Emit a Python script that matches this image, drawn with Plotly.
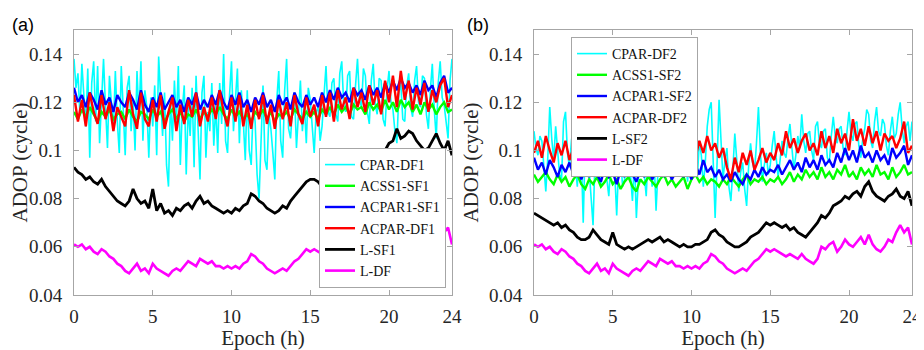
import plotly.graph_objects as go

# ---------------- data ----------------
epoch_h = [i * 0.25 for i in range(97)]        # 0 .. 24 h, 15-min samples
epoch_fine = [i * 0.125 for i in range(193)]   # 0 .. 24 h, 7.5-min samples (CPAR series)

cpar_df1 = [0.138, 0.126, 0.132, 0.115, 0.136, 0.121, 0.110, 0.134,
            0.097, 0.128, 0.137, 0.112, 0.135, 0.103, 0.124, 0.138,
            0.118, 0.101, 0.131, 0.120, 0.108, 0.133, 0.112, 0.099,
            0.135, 0.117, 0.098, 0.126, 0.131, 0.108, 0.121, 0.100,
            0.133, 0.113, 0.137, 0.104, 0.125, 0.118, 0.097, 0.122,
            0.110, 0.127, 0.098, 0.139, 0.119, 0.106, 0.124, 0.094,
            0.085, 0.121, 0.104, 0.129, 0.111, 0.135, 0.094, 0.117,
            0.127, 0.090, 0.118, 0.106, 0.126, 0.093, 0.131, 0.112,
            0.088, 0.124, 0.131, 0.097, 0.116, 0.108, 0.128, 0.102,
            0.119, 0.099, 0.128, 0.111, 0.140, 0.104, 0.099, 0.123,
            0.137, 0.108, 0.121, 0.134, 0.103, 0.125, 0.112, 0.096,
            0.125, 0.100, 0.094, 0.118, 0.112, 0.090, 0.080, 0.106,
            0.127, 0.096, 0.092, 0.115, 0.109, 0.099, 0.088, 0.121,
            0.133, 0.104, 0.097, 0.125, 0.138, 0.109, 0.105, 0.118,
            0.124, 0.101, 0.113, 0.129, 0.108, 0.119, 0.103, 0.126,
            0.121, 0.108, 0.099, 0.116, 0.118, 0.104, 0.110, 0.123,
            0.135, 0.116, 0.114, 0.128, 0.130, 0.115, 0.112, 0.132,
            0.137, 0.119, 0.116, 0.131, 0.133, 0.114, 0.113, 0.127,
            0.138, 0.121, 0.118, 0.134, 0.131, 0.116, 0.111, 0.129,
            0.136, 0.119, 0.115, 0.130, 0.129, 0.113, 0.110, 0.125,
            0.133, 0.120, 0.117, 0.108, 0.103, 0.124, 0.128, 0.113,
            0.112, 0.127, 0.132, 0.118, 0.114, 0.129, 0.135, 0.120,
            0.118, 0.131, 0.130, 0.115, 0.109, 0.125, 0.136, 0.117,
            0.105, 0.128, 0.137, 0.122, 0.119, 0.112, 0.105, 0.129,
            0.138]

acss1_sf1 = [0.116, 0.113, 0.117, 0.114, 0.118, 0.115, 0.112, 0.116, 0.114, 0.117, 0.113, 0.115, 0.116,
             0.113, 0.117, 0.114, 0.112, 0.116, 0.115, 0.113, 0.117, 0.114, 0.116, 0.112, 0.115,
             0.117, 0.113, 0.116, 0.112, 0.115, 0.114, 0.117, 0.113, 0.116, 0.114, 0.117, 0.115,
             0.118, 0.115, 0.113, 0.117, 0.114, 0.116, 0.113, 0.115, 0.112, 0.116, 0.114, 0.117,
             0.113, 0.116, 0.112, 0.115, 0.114, 0.116, 0.113, 0.117, 0.115, 0.113, 0.116, 0.114,
             0.116, 0.113, 0.117, 0.115, 0.118, 0.115, 0.119, 0.116, 0.118, 0.115, 0.119, 0.117,
             0.118, 0.115, 0.120, 0.117, 0.119, 0.116, 0.121, 0.117, 0.120, 0.116, 0.121, 0.118,
             0.120, 0.116, 0.119, 0.115, 0.120, 0.117, 0.119, 0.115, 0.118, 0.120, 0.116, 0.117]

acpar1_sf1 = [0.126, 0.120, 0.123, 0.118, 0.124, 0.121, 0.117, 0.125, 0.119, 0.122, 0.116, 0.123, 0.120,
              0.118, 0.124, 0.121, 0.117, 0.125, 0.119, 0.116, 0.122, 0.118, 0.124, 0.117, 0.120,
              0.123, 0.118, 0.121, 0.116, 0.122, 0.119, 0.124, 0.117, 0.121, 0.118, 0.123, 0.119,
              0.125, 0.120, 0.117, 0.123, 0.119, 0.124, 0.118, 0.121, 0.116, 0.122, 0.119, 0.124,
              0.118, 0.121, 0.116, 0.123, 0.119, 0.122, 0.117, 0.124, 0.120, 0.118, 0.123, 0.119,
              0.122, 0.118, 0.124, 0.120, 0.125, 0.121, 0.126, 0.122, 0.124, 0.120, 0.126, 0.123,
              0.125, 0.121, 0.127, 0.123, 0.126, 0.122, 0.128, 0.124, 0.129, 0.125, 0.130, 0.126,
              0.128, 0.124, 0.127, 0.123, 0.129, 0.125, 0.127, 0.122, 0.128, 0.131, 0.124, 0.126]

acpar_df1 = [0.123, 0.112, 0.121, 0.110, 0.124, 0.116, 0.111, 0.123, 0.113, 0.120, 0.108, 0.118, 0.114,
             0.110, 0.125, 0.115, 0.109, 0.124, 0.113, 0.110, 0.121, 0.112, 0.123, 0.109, 0.116,
             0.122, 0.108, 0.119, 0.111, 0.121, 0.114, 0.124, 0.110, 0.118, 0.112, 0.122, 0.113,
             0.125, 0.116, 0.110, 0.122, 0.112, 0.123, 0.110, 0.119, 0.109, 0.121, 0.113, 0.123,
             0.111, 0.119, 0.109, 0.121, 0.113, 0.120, 0.110, 0.123, 0.115, 0.111, 0.122, 0.114,
             0.119, 0.110, 0.123, 0.114, 0.124, 0.112, 0.125, 0.117, 0.122, 0.113, 0.126, 0.118,
             0.124, 0.116, 0.127, 0.119, 0.125, 0.115, 0.129, 0.120, 0.131, 0.118, 0.133, 0.121,
             0.129, 0.117, 0.126, 0.119, 0.128, 0.116, 0.125, 0.120, 0.127, 0.130, 0.118, 0.123]

l_sf1 = [0.093, 0.091, 0.090, 0.088, 0.089, 0.087, 0.086, 0.088, 0.085, 0.083, 0.081, 0.079, 0.078,
         0.077, 0.079, 0.084, 0.080, 0.078, 0.079, 0.076, 0.084, 0.075, 0.078, 0.074, 0.075,
         0.073, 0.076, 0.075, 0.077, 0.078, 0.076, 0.079, 0.081, 0.078, 0.079, 0.077, 0.076,
         0.075, 0.074, 0.075, 0.074, 0.076, 0.075, 0.077, 0.078, 0.082, 0.081, 0.079, 0.078,
         0.076, 0.075, 0.074, 0.075, 0.077, 0.076, 0.079, 0.081, 0.083, 0.085, 0.087, 0.088,
         0.088, 0.087, 0.085, 0.086, 0.085, 0.084, 0.083, 0.082, 0.083, 0.085, 0.087, 0.089,
         0.091, 0.092, 0.094, 0.096, 0.099, 0.098, 0.100, 0.103, 0.104, 0.109, 0.105, 0.106,
         0.108, 0.107, 0.104, 0.102, 0.100, 0.101, 0.104, 0.107, 0.103, 0.100, 0.104, 0.098]

l_df = [0.061, 0.060, 0.061, 0.059, 0.060, 0.058, 0.057, 0.059, 0.058, 0.056, 0.055, 0.053, 0.052,
        0.050, 0.049, 0.051, 0.053, 0.050, 0.051, 0.049, 0.053, 0.051, 0.050, 0.049, 0.048,
        0.050, 0.051, 0.050, 0.052, 0.054, 0.053, 0.052, 0.055, 0.054, 0.053, 0.054, 0.052,
        0.052, 0.051, 0.052, 0.051, 0.052, 0.051, 0.053, 0.054, 0.057, 0.056, 0.054, 0.053,
        0.051, 0.050, 0.049, 0.050, 0.051, 0.050, 0.052, 0.054, 0.055, 0.057, 0.059, 0.058,
        0.059, 0.058, 0.057, 0.056, 0.057, 0.056, 0.055, 0.057, 0.055, 0.054, 0.053, 0.055,
        0.060, 0.059, 0.061, 0.062, 0.058, 0.060, 0.063, 0.061, 0.060, 0.062, 0.064, 0.061,
        0.065, 0.061, 0.059, 0.058, 0.060, 0.063, 0.062, 0.066, 0.069, 0.066, 0.068, 0.061]

cpar_df2 = [0.108, 0.101, 0.098, 0.106, 0.104, 0.092, 0.083, 0.097,
            0.118, 0.105, 0.096, 0.110, 0.101, 0.090, 0.088, 0.112,
            0.116, 0.099, 0.093, 0.104, 0.110, 0.094, 0.085, 0.101,
            0.099, 0.070, 0.103, 0.095, 0.092, 0.081, 0.069, 0.097,
            0.108, 0.092, 0.086, 0.099, 0.100, 0.088, 0.081, 0.095,
            0.106, 0.091, 0.073, 0.094, 0.097, 0.085, 0.088, 0.101,
            0.104, 0.090, 0.079, 0.096, 0.072, 0.088, 0.102, 0.093,
            0.090, 0.081, 0.099, 0.094, 0.085, 0.097, 0.075, 0.092,
            0.103, 0.095, 0.092, 0.099, 0.108, 0.096, 0.089, 0.101,
            0.100, 0.091, 0.094, 0.106, 0.112, 0.097, 0.087, 0.099,
            0.118, 0.102, 0.096, 0.089, 0.104, 0.098, 0.085, 0.095,
            0.110, 0.117, 0.120, 0.098, 0.072, 0.095, 0.121, 0.104,
            0.088, 0.096, 0.101, 0.085, 0.079, 0.092, 0.107, 0.096,
            0.083, 0.091, 0.095, 0.084, 0.077, 0.093, 0.103, 0.095,
            0.091, 0.103, 0.118, 0.099, 0.087, 0.094, 0.099, 0.090,
            0.094, 0.102, 0.108, 0.097, 0.089, 0.096, 0.104, 0.099,
            0.097, 0.105, 0.111, 0.101, 0.092, 0.098, 0.106, 0.101,
            0.115, 0.104, 0.099, 0.107, 0.108, 0.100, 0.096, 0.110,
            0.112, 0.103, 0.101, 0.108, 0.109, 0.097, 0.095, 0.106,
            0.114, 0.106, 0.103, 0.109, 0.110, 0.101, 0.098, 0.108,
            0.116, 0.107, 0.104, 0.111, 0.112, 0.102, 0.097, 0.105,
            0.109, 0.117, 0.115, 0.104, 0.101, 0.112, 0.118, 0.108,
            0.106, 0.113, 0.111, 0.102, 0.098, 0.108, 0.114, 0.105,
            0.107, 0.115, 0.120, 0.109, 0.103, 0.110, 0.112, 0.104,
            0.112]

acss1_sf2 = [0.090, 0.087, 0.089, 0.091, 0.088, 0.086, 0.090, 0.087, 0.089, 0.085, 0.088, 0.090, 0.086,
             0.084, 0.088, 0.086, 0.089, 0.085, 0.087, 0.090, 0.086, 0.088, 0.084, 0.087, 0.089,
             0.085, 0.083, 0.088, 0.086, 0.089, 0.087, 0.085, 0.088, 0.090, 0.086, 0.088, 0.085,
             0.087, 0.089, 0.084, 0.088, 0.090, 0.087, 0.089, 0.086, 0.088, 0.087, 0.085, 0.088,
             0.086, 0.089, 0.087, 0.085, 0.088, 0.090, 0.086, 0.088, 0.087, 0.089, 0.086, 0.088,
             0.087, 0.089, 0.086, 0.088, 0.091, 0.087, 0.090, 0.088, 0.092, 0.089, 0.091, 0.088,
             0.093, 0.089, 0.091, 0.088, 0.092, 0.090, 0.094, 0.089, 0.091, 0.088, 0.093, 0.090,
             0.092, 0.089, 0.094, 0.090, 0.091, 0.088, 0.093, 0.089, 0.091, 0.094, 0.090, 0.091]

acpar1_sf2 = [0.097, 0.092, 0.095, 0.090, 0.096, 0.093, 0.089, 0.094, 0.091, 0.095, 0.090, 0.093, 0.088,
              0.092, 0.089, 0.094, 0.090, 0.087, 0.093, 0.089, 0.091, 0.086, 0.092, 0.089, 0.094,
              0.090, 0.087, 0.092, 0.089, 0.093, 0.088, 0.091, 0.094, 0.089, 0.092, 0.088, 0.091,
              0.093, 0.089, 0.092, 0.088, 0.094, 0.090, 0.096, 0.091, 0.093, 0.089, 0.092, 0.088,
              0.090, 0.087, 0.091, 0.088, 0.086, 0.090, 0.088, 0.092, 0.089, 0.093, 0.090, 0.092,
              0.091, 0.094, 0.090, 0.093, 0.096, 0.092, 0.095, 0.091, 0.097, 0.093, 0.096, 0.092,
              0.098, 0.094, 0.096, 0.093, 0.099, 0.095, 0.101, 0.096, 0.100, 0.095, 0.102, 0.097,
              0.099, 0.095, 0.100, 0.096, 0.098, 0.094, 0.101, 0.097, 0.099, 0.102, 0.094, 0.098]

acpar_df2 = [0.099, 0.104, 0.097, 0.106, 0.100, 0.095, 0.103, 0.098, 0.104, 0.096, 0.101, 0.094, 0.099,
             0.093, 0.098, 0.095, 0.100, 0.092, 0.097, 0.094, 0.099, 0.091, 0.096, 0.093, 0.098,
             0.092, 0.097, 0.094, 0.099, 0.093, 0.096, 0.092, 0.098, 0.095, 0.100, 0.094, 0.097,
             0.093, 0.099, 0.096, 0.101, 0.097, 0.104, 0.099, 0.106, 0.100, 0.103, 0.097, 0.101,
             0.093, 0.088, 0.097, 0.091, 0.099, 0.094, 0.100, 0.092, 0.096, 0.101, 0.095, 0.099,
             0.096, 0.103, 0.098, 0.108, 0.101, 0.105, 0.099, 0.104, 0.107, 0.100, 0.103, 0.098,
             0.108, 0.101, 0.106, 0.099, 0.109, 0.103, 0.107, 0.100, 0.113, 0.104, 0.109, 0.102,
             0.110, 0.103, 0.108, 0.100, 0.107, 0.104, 0.106, 0.101, 0.105, 0.112, 0.099, 0.102]

l_sf2 = [0.074, 0.073, 0.072, 0.071, 0.070, 0.069, 0.070, 0.068, 0.069, 0.067, 0.066, 0.064, 0.063,
         0.063, 0.064, 0.067, 0.065, 0.063, 0.062, 0.061, 0.066, 0.061, 0.060, 0.059, 0.060,
         0.059, 0.060, 0.061, 0.062, 0.063, 0.062, 0.063, 0.064, 0.062, 0.063, 0.062, 0.061,
         0.060, 0.061, 0.060, 0.060, 0.061, 0.061, 0.062, 0.063, 0.066, 0.067, 0.065, 0.064,
         0.062, 0.061, 0.060, 0.060, 0.061, 0.062, 0.064, 0.065, 0.066, 0.068, 0.070, 0.069,
         0.070, 0.069, 0.068, 0.069, 0.067, 0.068, 0.066, 0.065, 0.064, 0.066, 0.068, 0.070,
         0.073, 0.072, 0.074, 0.077, 0.078, 0.079, 0.081, 0.080, 0.082, 0.083, 0.081, 0.085,
         0.087, 0.083, 0.081, 0.080, 0.079, 0.081, 0.082, 0.084, 0.081, 0.080, 0.083, 0.077]

x_tick_vals = [0, 5, 10, 15, 20, 24]
y_tick_vals = [0.04, 0.06, 0.08, 0.10, 0.12, 0.14]
y_tick_text = ["0.04", "0.06", "0.08", "0.1", "0.12", "0.14"]

panel_a = [("CPAR-DF1", epoch_fine, cpar_df1), ("ACSS1-SF1", epoch_h, acss1_sf1),
           ("ACPAR1-SF1", epoch_h, acpar1_sf1), ("ACPAR-DF1", epoch_h, acpar_df1),
           ("L-SF1", epoch_h, l_sf1), ("L-DF", epoch_h, l_df)]
panel_b = [("CPAR-DF2", epoch_fine, cpar_df2), ("ACSS1-SF2", epoch_h, acss1_sf2),
           ("ACPAR1-SF2", epoch_h, acpar1_sf2), ("ACPAR-DF2", epoch_h, acpar_df2),
           ("L-SF2", epoch_h, l_sf2), ("L-DF", epoch_h, l_df)]

colors = ["#00FFFF", "#00FF00", "#0000FF", "#FF0000", "#000000", "#FF00FF"]
widths = [1.6, 2.4, 2.4, 2.4, 2.8, 2.6]

# ---------------- figure ----------------
fig = go.Figure()
for (name, xs, vals), c, w in zip(panel_a, colors, widths):
    fig.add_trace(go.Scatter(x=xs, y=vals, mode="lines", name=name,
                             line=dict(color=c, width=w), xaxis="x", yaxis="y",
                             legend="legend"))
for (name, xs, vals), c, w in zip(panel_b, colors, widths):
    fig.add_trace(go.Scatter(x=xs, y=vals, mode="lines", name=name,
                             line=dict(color=c, width=w), xaxis="x2", yaxis="y2",
                             legend="legend2"))

# the page body adds an 8px offset; size the figure to fill the rest of the window
OFF = 8
W, H = 924 - OFF, 350 - OFF


def fx(px):
    return (px - OFF) / W


def fy(py):
    return 1 - (py - OFF) / H


serif = "Liberation Serif, Times New Roman, serif"
axcol = "#a6a6a6"
txtcol = "#262626"


def xaxis(domain, anchor):
    return dict(domain=domain, anchor=anchor, range=[0, 24], tickvals=x_tick_vals,
                ticks="inside", ticklen=5, tickcolor=axcol, showline=True, linecolor=axcol,
                linewidth=1, mirror="ticks", showgrid=False, zeroline=False,
                ticklabelstandoff=4,
                tickfont=dict(family=serif, size=19, color=txtcol),
                title=dict(text="Epoch (h)", font=dict(family=serif, size=21, color=txtcol),
                           standoff=4))


def yaxis(domain, anchor):
    return dict(domain=domain, anchor=anchor, range=[0.04, 0.15], tickvals=y_tick_vals,
                ticktext=y_tick_text, ticks="inside", ticklen=5, tickcolor=axcol,
                showline=True, linecolor=axcol, linewidth=1, mirror="ticks",
                showgrid=False, zeroline=False, ticklabelstandoff=7,
                tickfont=dict(family=serif, size=19, color=txtcol),
                title=dict(text="ADOP (cycle)", font=dict(family=serif, size=21, color=txtcol),
                           standoff=4))


ydom = [fy(295), fy(30)]
legfont = dict(family=serif, size=14, color="#111111")
fig.update_layout(
    width=W, height=H, autosize=False,
    margin=dict(l=0, r=0, t=0, b=0, autoexpand=False),
    paper_bgcolor="white", plot_bgcolor="white",
    xaxis=xaxis([fx(74), fx(452)], "y"),
    yaxis=yaxis(ydom, "x"),
    xaxis2=xaxis([fx(534), fx(912)], "y2"),
    yaxis2=yaxis(ydom, "x2"),
    legend=dict(x=fx(446), y=fy(288), xanchor="right", yanchor="bottom",
                bgcolor="white", bordercolor=axcol, borderwidth=1, font=legfont,
                tracegroupgap=0, itemwidth=30),
    legend2=dict(x=fx(571), y=fy(37), xanchor="left", yanchor="top",
                 bgcolor="white", bordercolor=axcol, borderwidth=1, font=legfont,
                 tracegroupgap=0, itemwidth=30),
    annotations=[
        dict(text="(a)", x=fx(10), y=fy(25), xref="paper", yref="paper",
             xanchor="left", yanchor="middle", showarrow=False,
             font=dict(family="Liberation Sans, Arial, sans-serif", size=18, color="#000000")),
        dict(text="(b)", x=fx(465), y=fy(25), xref="paper", yref="paper",
             xanchor="left", yanchor="middle", showarrow=False,
             font=dict(family="Liberation Sans, Arial, sans-serif", size=18, color="#000000")),
    ],
)

fig.write_html("out.html")
